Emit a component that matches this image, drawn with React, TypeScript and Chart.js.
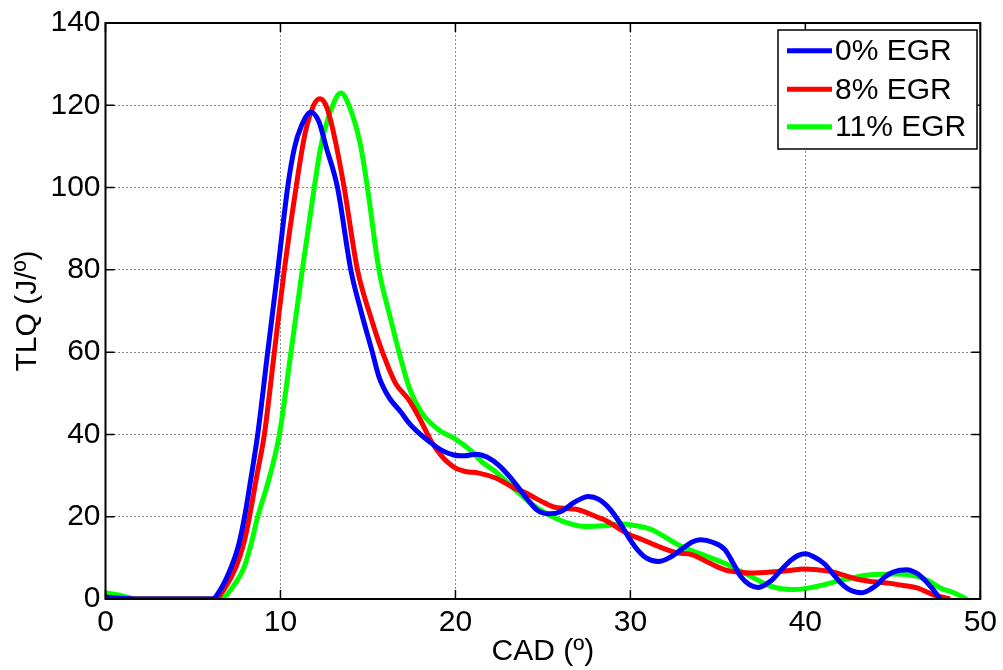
import React, { useEffect, useRef } from "react";
import { Chart, registerables } from "chart.js";

Chart.register(...registerables);

const seriesLabels = ["0% EGR", "8% EGR", "11% EGR"];
const seriesColors = ["#0000FF", "#FF0000", "#00FF00"];

const egr0X = [0, 0.8, 1.8, 6.1, 6.6, 7.2, 7.6, 7.95, 8.3, 8.7, 9.27, 9.85, 10.41, 10.79, 11.2, 11.74, 12.2, 12.6, 13.26, 14.02, 14.6, 15.25, 15.63, 16.2, 16.87, 17.4, 18.0, 18.5, 19.2, 19.9, 20.5, 21.2, 21.8, 22.5, 23.4, 24.1, 24.7, 25.4, 26.0, 26.8, 27.6, 28.2, 28.8, 29.4, 29.9, 30.4, 30.9, 31.6, 32.3, 32.9, 33.5, 34.0, 34.7, 35.4, 35.9, 36.3, 36.8, 37.3, 38.0, 38.6, 39.2, 39.6, 40.0, 40.5, 41.1, 41.7, 42.2, 42.7, 43.2, 43.7, 44.1, 44.5, 44.9, 45.4, 45.8, 46.2, 46.6, 47.2, 47.7];
const egr0Y = [0.5, 0.2, 0, 0, 2.5, 7.9, 13, 20, 29, 40, 60, 80, 100, 109.5, 115, 118.3, 116, 110, 100, 80, 70, 60, 54, 49, 45.5, 42.5, 40, 38.3, 36.2, 35.0, 34.8, 35.2, 34.5, 32.4, 28.2, 24.3, 21.5, 20.7, 21.2, 23.5, 24.9, 24.2, 22, 18.5, 15, 12, 10, 9.1, 10.2, 12.0, 13.8, 14.4, 13.8, 12.0, 8.5, 5.5, 3.5, 2.8, 4.3, 7, 9.5, 10.6, 11.0, 10.2, 8.5, 5.5, 3.2, 1.9, 1.5, 2.3, 3.5, 5.2, 6.3, 7.0, 7.1, 6.6, 5.5, 2.8, 0];

const egr8X = [0, 1.8, 6.3, 6.8, 7.47, 7.9, 8.23, 8.65, 9.08, 9.65, 10.22, 10.89, 11.4, 11.9, 12.25, 12.6, 13.0, 13.64, 14.4, 15.2, 15.82, 16.58, 17.34, 18.0, 18.67, 19.24, 19.62, 20.0, 20.57, 21.33, 22.3, 23.22, 24.0, 25.12, 25.7, 27.02, 28.16, 28.54, 29.87, 30.7, 31.7, 32.7, 33.5, 34.4, 35.4, 36.2, 36.9, 38.2, 39.2, 39.9, 40.7, 41.45, 42.2, 42.97, 43.9, 44.86, 45.6, 46.38, 47.33, 48.28];
const egr8Y = [0.3, 0, 0, 2.5, 7.9, 13.5, 20, 30, 40, 60, 80, 100, 113, 120, 121.6, 120, 114, 100, 80, 68, 60.1, 52.4, 48.4, 43.5, 37.9, 34.6, 33.0, 31.8, 31.0, 30.6, 29.4, 27.3, 25.8, 23.3, 22.3, 21.7, 19.8, 19.2, 15.8, 14.4, 12.6, 11.2, 10.8, 9, 7.1, 6.5, 6.3, 6.6, 7.0, 7.3, 7.1, 6.7, 5.8, 4.8, 4.2, 3.8, 3.3, 2.7, 1.0, 0];

const egr11X = [0, 0.9, 1.8, 6.6, 7.2, 7.94, 8.3, 8.7, 9.3, 9.94, 10.6, 11.25, 11.93, 12.31, 12.9, 13.45, 14.0, 14.59, 14.97, 15.63, 16.3, 16.77, 17.34, 18.1, 19.05, 19.92, 20.95, 21.52, 22.28, 23.42, 24.3, 25.31, 26.3, 27.4, 28.54, 29.5, 30.06, 31.2, 32.0, 32.9, 33.86, 34.6, 35.38, 36.1, 36.89, 38.03, 39.36, 40.69, 42.21, 43.72, 45.24, 46.38, 47.0, 47.71, 48.5, 49.23];
const egr11Y = [1.5, 0.8, 0, 0, 2.5, 7.9, 13, 20, 28.5, 40, 60, 80, 100, 110, 119, 123, 119, 110, 100, 80, 68, 60.1, 51.6, 45.1, 41.1, 39.1, 35.8, 33.3, 31.0, 26.5, 23.3, 20.5, 18.6, 17.6, 17.8, 18.2, 18.0, 16.9, 15.0, 12.8, 11.2, 10.0, 8.7, 7.2, 5.5, 3.1, 2.3, 3.1, 4.7, 5.9, 6.1, 5.5, 4.5, 2.7, 1.5, 0];

const xTicks = [0, 10, 20, 30, 40, 50];
const yTicks = [0, 20, 40, 60, 80, 100, 120, 140];
const xTitle = "CAD (º)";
const yTitle = "TLQ (J/º)";

const FONT = "'Liberation Sans', Arial, sans-serif";
const FS = 30;

const toPoints = (xs: number[], ys: number[]) => xs.map((x, i) => ({ x, y: ys[i] }));

const framePlugin = {
  id: "frame",
  afterDatasetsDraw(chart: any) {
    const { ctx, chartArea: a, scales } = chart;
    const xs = scales.x;
    const ys = scales.y;
    ctx.save();
    ctx.strokeStyle = "#000";
    ctx.lineWidth = 2;
    ctx.strokeRect(a.left, a.top, a.right - a.left, a.bottom - a.top);
    const tl = 9;
    ctx.lineWidth = 1.5;
    ctx.beginPath();
    for (const v of yTicks) {
      const p = ys.getPixelForValue(v);
      ctx.moveTo(a.left, p);
      ctx.lineTo(a.left + tl, p);
      ctx.moveTo(a.right, p);
      ctx.lineTo(a.right - tl, p);
    }
    for (const v of xTicks) {
      const p = xs.getPixelForValue(v);
      ctx.moveTo(p, a.bottom);
      ctx.lineTo(p, a.bottom - tl);
      ctx.moveTo(p, a.top);
      ctx.lineTo(p, a.top + tl);
    }
    ctx.stroke();

    // legend
    const lx = 778, ly = 30, lw = 199, lh = 119;
    ctx.fillStyle = "#fff";
    ctx.fillRect(lx, ly, lw, lh);
    ctx.strokeStyle = "#000";
    ctx.lineWidth = 1.5;
    ctx.strokeRect(lx, ly, lw, lh);
    const rows = [50.7, 89.3, 126.7];
    ctx.font = `${FS}px ${FONT}`;
    ctx.textBaseline = "middle";
    ctx.textAlign = "left";
    seriesLabels.forEach((lab, i) => {
      ctx.strokeStyle = seriesColors[i];
      ctx.lineWidth = 5;
      ctx.beginPath();
      ctx.moveTo(787, rows[i]);
      ctx.lineTo(832, rows[i]);
      ctx.stroke();
      ctx.fillStyle = "#000";
      ctx.fillText(lab, 835, rows[i] + 1);
    });
    ctx.restore();
  },
};

export default function App() {
  const ref = useRef<HTMLCanvasElement | null>(null);
  useEffect(() => {
    if (!ref.current) return;
    const data = {
      datasets: [
        { label: seriesLabels[0], data: toPoints(egr0X, egr0Y), borderColor: seriesColors[0] },
        { label: seriesLabels[1], data: toPoints(egr8X, egr8Y), borderColor: seriesColors[1] },
        { label: seriesLabels[2], data: toPoints(egr11X, egr11Y), borderColor: seriesColors[2] },
      ].map((d) => ({
        ...d,
        borderWidth: 5,
        pointRadius: 0,
        fill: false,
        cubicInterpolationMode: "monotone" as const,
        clip: 0,
      })),
    };
    const chart = new Chart(ref.current, {
      type: "line",
      data,
      plugins: [framePlugin],
      options: {
        animation: false,
        responsive: false,
        maintainAspectRatio: false,
        layout: { padding: { left: 0, top: 22, right: 19, bottom: 0 } },
        plugins: { legend: { display: false }, tooltip: { enabled: false } },
        scales: {
          x: {
            type: "linear",
            min: 0,
            max: 50,
            afterBuildTicks: (s: any) => { s.ticks = xTicks.map((v) => ({ value: v })); },
            afterFit: (s: any) => { s.height = 71; },
            grid: { color: "#8a8a8a", lineWidth: 1, drawTicks: false },
            border: { display: false, dash: [2, 2] },
            ticks: { color: "#000", font: { family: FONT, size: FS }, padding: 6, maxRotation: 0 },
            title: { display: true, text: xTitle, color: "#000", font: { family: FONT, size: FS }, padding: { top: -3, bottom: 0 } },
          },
          y: {
            type: "linear",
            min: 0,
            max: 140,
            afterBuildTicks: (s: any) => { s.ticks = yTicks.map((v) => ({ value: v })); },
            afterFit: (s: any) => { s.width = 105.5; },
            grid: { color: "#8a8a8a", lineWidth: 1, drawTicks: false },
            border: { display: false, dash: [2, 2] },
            ticks: { color: "#000", font: { family: FONT, size: FS }, padding: 5 },
            title: { display: true, text: yTitle, color: "#000", font: { family: FONT, size: FS }, padding: { top: 10, bottom: 0 } },
          },
        },
      },
    });
    return () => chart.destroy();
  }, []);
  return (
    <div style={{ position: "fixed", left: 0, top: 0, width: 1003, height: 670, background: "#fff" }}>
      <canvas ref={ref} width={1003} height={670} style={{ width: 1003, height: 670 }} />
    </div>
  );
}
